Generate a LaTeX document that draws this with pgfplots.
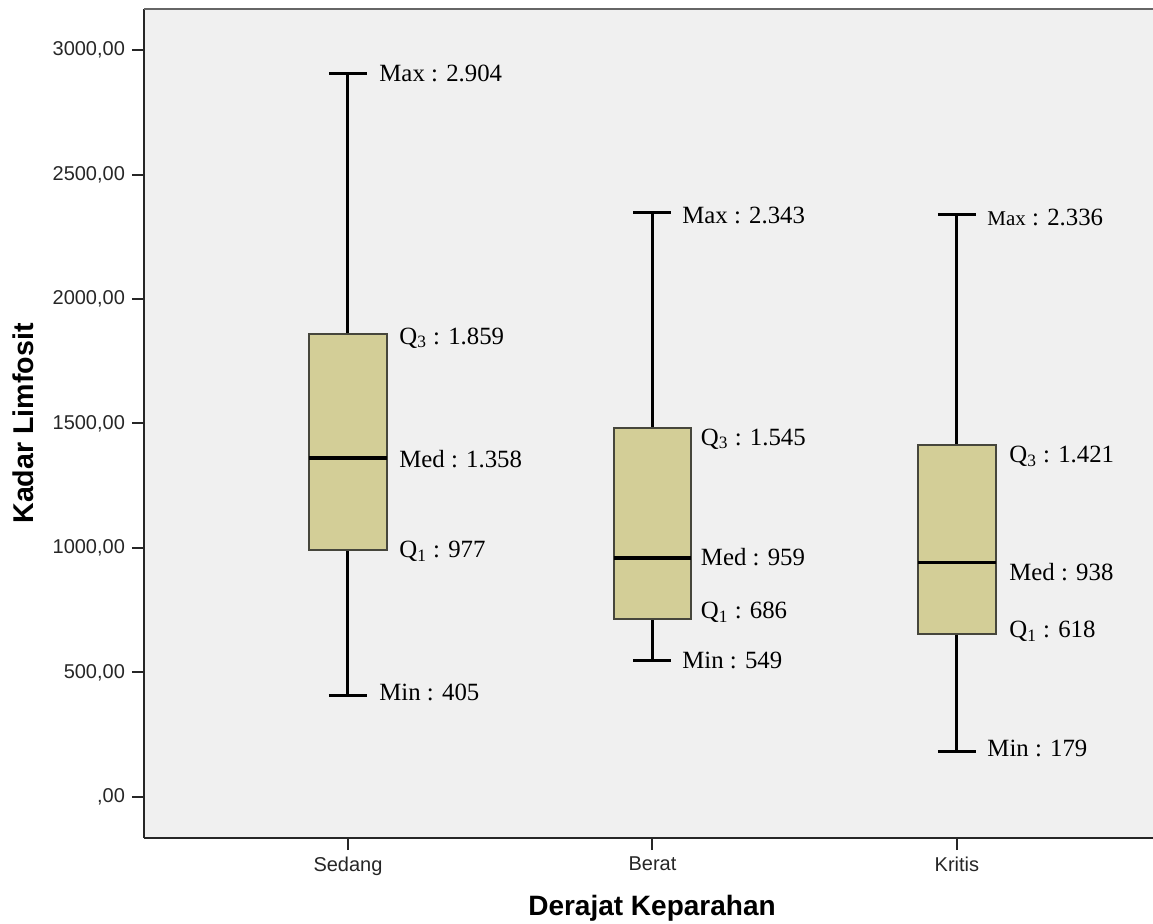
\documentclass[border=0pt]{standalone}
\usepackage{fontspec}
\setmainfont{Liberation Serif}
\setsansfont{Liberation Sans}
\usepackage{pgfplots}
\pgfplotsset{compat=1.18}
\definecolor{boxfill}{RGB}{211,206,151}
\definecolor{bg}{RGB}{240,240,240}
\definecolor{boxedge}{RGB}{70,70,60}
\newcommand{\lab}{\fontsize{12.4}{14}\selectfont}
\begin{document}
\begin{tikzpicture}
\begin{axis}[
  name=ax,
  scale only axis, width=504.5pt, height=414.5pt,
  xmin=0.33, xmax=3.644, ymin=-165, ymax=3165,
  clip=false,
  axis x line=bottom, axis y line=left,
  axis line style={-, line width=1pt, draw=black!85},
  axis background/.style={fill=bg},
  xtick={1,2,3}, xticklabels={Sedang,Berat,Kritis},
  ytick={0,500,1000,1500,2000,2500,3000},
  yticklabels={{,00},{500,00},{1000,00},{1500,00},{2000,00},{2500,00},{3000,00}},
  tick align=outside, major tick length=6pt,
  tick style={line width=1pt, black!85},
  minor tick num=0,
  ticklabel style={font=\sffamily\fontsize{10}{12}\selectfont, text=black!85},
  xlabel={Derajat Keparahan},
  ylabel={Kadar Limfosit},
  every axis x label/.style={at={(axis description cs:0.5035,-0.0935)}, anchor=base, font=\sffamily\bfseries\fontsize{14}{16}\selectfont},
  every axis y label/.style={at={(axis description cs:-0.1199,0.5)}, anchor=center, rotate=90, font=\sffamily\bfseries\fontsize{14.3}{16}\selectfont},
  whisk/.style={draw=black, line width=1.5pt},
  bx/.style={draw=boxedge, line width=1pt, fill=boxfill, line join=miter},
  med/.style={draw=black, line width=1.7pt},
]
% Sedang: min 407, Q1 992, med 1361, Q3 1859, max 2905
\addplot[whisk] coordinates {(1,1859) (1,2905)};
\addplot[whisk] coordinates {(0.9375,2905) (1.0625,2905)};
\addplot[whisk] coordinates {(1,992) (1,407)};
\addplot[whisk] coordinates {(0.9375,407) (1.0625,407)};
\addplot[bx] coordinates {(0.8725,992) (1.1275,992) (1.1275,1859) (0.8725,1859)} -- cycle;
\addplot[med] coordinates {(0.8725,1361) (1.1275,1361)};
% Berat: min 550, Q1 714, med 959, Q3 1481, max 2346
\addplot[whisk] coordinates {(2,1481) (2,2346)};
\addplot[whisk] coordinates {(1.9375,2346) (2.0625,2346)};
\addplot[whisk] coordinates {(2,714) (2,550)};
\addplot[whisk] coordinates {(1.9375,550) (2.0625,550)};
\addplot[bx] coordinates {(1.8725,714) (2.1275,714) (2.1275,1481) (1.8725,1481)} -- cycle;
\addplot[med] coordinates {(1.8725,959) (2.1275,959)};
% Kritis: min 182, Q1 653, med 941, Q3 1414, max 2338
\addplot[whisk] coordinates {(3,1414) (3,2338)};
\addplot[whisk] coordinates {(2.9375,2338) (3.0625,2338)};
\addplot[whisk] coordinates {(3,653) (3,182)};
\addplot[whisk] coordinates {(2.9375,182) (3.0625,182)};
\addplot[bx] coordinates {(2.8725,653) (3.1275,653) (3.1275,1414) (2.8725,1414)} -- cycle;
\addplot[med] coordinates {(2.8725,941) (3.1275,941)};
\draw[line width=1pt, black!60] (rel axis cs:0,1) -- (rel axis cs:1,1);
% labels Sedang
\node[anchor=west, inner sep=0pt, font=\lab] at (axis cs:1.102,2905) {Max : 2.904};
\node[anchor=west, inner sep=0pt, font=\lab] at (axis cs:1.1675,1844) {Q\textsubscript{3} : 1.859};
\node[anchor=west, inner sep=0pt, font=\lab] at (axis cs:1.1675,1359) {Med : 1.358};
\node[anchor=west, inner sep=0pt, font=\lab] at (axis cs:1.1675,986) {Q\textsubscript{1} : 977};
\node[anchor=west, inner sep=0pt, font=\lab] at (axis cs:1.102,421) {Min : 405};
% labels Berat
\node[anchor=west, inner sep=0pt, font=\lab] at (axis cs:2.097,2334) {Max : 2.343};
\node[anchor=west, inner sep=0pt, font=\lab] at (axis cs:2.1580,1438) {Q\textsubscript{3} : 1.545};
\node[anchor=west, inner sep=0pt, font=\lab] at (axis cs:2.1580,963) {Med : 959};
\node[anchor=west, inner sep=0pt, font=\lab] at (axis cs:2.1580,742) {Q\textsubscript{1} : 686};
\node[anchor=west, inner sep=0pt, font=\lab] at (axis cs:2.097,548) {Min : 549};
% labels Kritis
\node[anchor=west, inner sep=0pt, font=\lab] at (axis cs:3.099,2329) {{\fontsize{10.5}{12}\selectfont Max} : 2.336};
\node[anchor=west, inner sep=0pt, font=\lab] at (axis cs:3.171,1367) {Q\textsubscript{3} : 1.421};
\node[anchor=west, inner sep=0pt, font=\lab] at (axis cs:3.171,903) {Med : 938};
\node[anchor=west, inner sep=0pt, font=\lab] at (axis cs:3.171,664) {Q\textsubscript{1} : 618};
\node[anchor=west, inner sep=0pt, font=\lab] at (axis cs:3.099,193) {Min : 179};
\end{axis}
\pgfresetboundingbox
\path ([shift={(-72pt,-42.5pt)}]ax.south west) rectangle ([yshift=4.5pt]ax.north east);
\end{tikzpicture}
\end{document}
